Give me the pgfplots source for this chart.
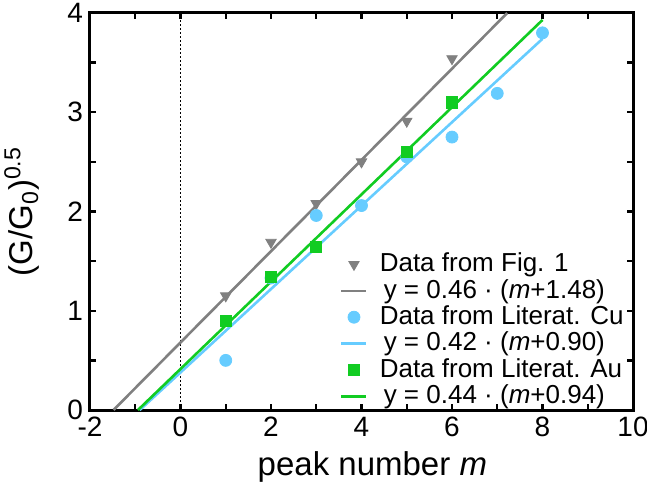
\documentclass[border=0pt]{standalone}
\usepackage{fontspec}
\setmainfont{Liberation Sans}
\usepackage{pgfplots}
\pgfplotsset{compat=1.18}
\definecolor{cgray}{HTML}{808080}
\definecolor{ccyan}{HTML}{66CCFF}
\definecolor{cgreen}{HTML}{11CC22}

\pgfplotsset{
  markleg/.style={legend image code/.code={\draw[##1] plot coordinates {(6.25pt,0pt)};}},
  lineleg/.style={legend image code/.code={\draw[##1] (0pt,0pt) -- (12.5pt,0pt);}},
}

\begin{document}
\begin{tikzpicture}
\begin{axis}[
  name=ax, scale only axis, width=271.5pt, height=198.5pt,
  xmin=-2, xmax=10, ymin=0, ymax=4,
  xtick={-2,0,...,10}, ytick={0,1,2,3,4},
  minor xtick={-1,1,...,9}, minor ytick={0.5,1.5,2.5,3.5},
  tick align=inside, major tick length=3pt, minor tick length=3pt,
  tick style={black, line width=1.2pt},
  axis line style={line width=1.5pt},
  /pgf/number format/assume math mode=true,
  tick label style={font=\fontsize{14}{16}\selectfont},
  xlabel={peak number \textit{m}},
  ylabel={(G/G\textsubscript{0})\textsuperscript{0.5}},
  label style={font=\fontsize{16.5}{20}\selectfont},
  xlabel style={at={(axis description cs:0.52,0)}, anchor=base, yshift=-32.5pt},
  ylabel style={at={(axis description cs:0,0.5)}, anchor=center, yshift=34pt},
  legend style={draw=none, fill=none, at={(rel axis cs:0.46,0.0)}, anchor=south west,
    font=\fontsize{13}{13.2}\selectfont, row sep=0pt, column sep=6pt,
    inner sep=0pt, nodes={inner sep=0pt, text height=10.2pt, text depth=3pt}},
  legend cell align=left,
]
\addplot[black, line width=0.8pt, dash pattern=on 0.8pt off 1.2pt, forget plot]
  coordinates {(0,0)(0,4)};
% data from Fig. 1
\addplot[only marks, mark=triangle*, mark size=3pt, mark options={rotate=180, fill=cgray, draw=cgray}, markleg]
  coordinates {(1,1.15)(2,1.69)(3,2.08)(4,2.50)(5,2.91)(6,3.54)};
\addlegendentry{Data from Fig. 1}
\addplot[cgray, line width=1.3pt, lineleg] coordinates {(-1.48,0)(7.22,4)};
\addlegendentry{\hspace{2pt}y = 0.46 · (\textit{m}+1.48)}
% literature Cu
\addplot[only marks, mark=*, mark size=3pt, mark options={fill=ccyan, draw=ccyan}, markleg]
  coordinates {(1,0.50)(2,1.33)(3,1.96)(4,2.06)(5,2.55)(6,2.75)(7,3.19)(8,3.80)};
\addlegendentry{Data from Literat. Cu}
\addplot[ccyan, line width=1.3pt, lineleg] coordinates {(-0.90,0)(8,3.74)};
\addlegendentry{\hspace{2pt}y = 0.42 · (\textit{m}+0.90)}
% literature Au
\addplot[only marks, mark=square*, mark size=2.8pt, mark options={fill=cgreen, draw=cgreen}, markleg]
  coordinates {(1,0.90)(2,1.34)(3,1.64)(5,2.60)(6,3.10)};
\addlegendentry{Data from Literat. Au}
\addplot[cgreen, line width=1.3pt, lineleg] coordinates {(-0.94,0)(8,3.93)};
\addlegendentry{\hspace{2pt}y = 0.44 · (\textit{m}+0.94)}
\end{axis}
\pgfresetboundingbox
\path ([shift={(-45pt,-36pt)}]ax.south west) rectangle ([shift={(7pt,6.5pt)}]ax.north east);
\end{tikzpicture}
\end{document}
